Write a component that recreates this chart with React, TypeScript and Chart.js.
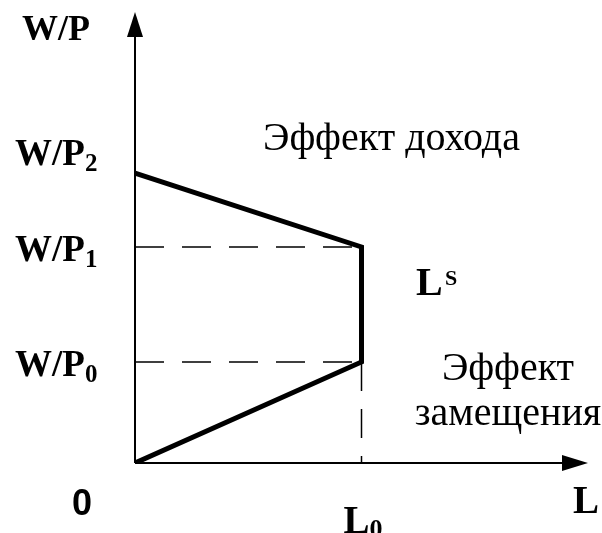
import React, { useEffect, useRef } from "react";
import { Chart, registerables } from "chart.js";

Chart.register(...registerables);

// Labour supply curve L^S with a backward-bending upper segment
const supplyL = [0, 5, 5, 0];
const supplyW = [6.43, 4.79, 2.24, 0];

// Reference levels of the real wage and of labour
const wageLevels = [2.24, 4.79, 6.43]; // W/P0, W/P1, W/P2
const wageSubs = ["0", "1", "2"];
const laborL0 = 5;

const SERIF = "'Liberation Serif', 'Times New Roman', serif";
const SANS = "'Liberation Sans', Arial, sans-serif";

const axesPlugin = {
  id: "axesArrows",
  beforeDatasetsDraw(chart: any) {
    const { ctx, scales } = chart;
    const x0 = scales.x.getPixelForValue(0);
    const y0 = scales.y.getPixelForValue(0);
    const top = chart.chartArea.top;
    const right = chart.chartArea.right;
    ctx.save();
    ctx.strokeStyle = "#000";
    ctx.fillStyle = "#000";
    ctx.lineWidth = 2;
    ctx.beginPath();
    ctx.moveTo(x0, y0);
    ctx.lineTo(x0, top + 20);
    ctx.moveTo(x0, y0);
    ctx.lineTo(right - 20, y0);
    ctx.stroke();
    // arrow heads
    ctx.beginPath();
    ctx.moveTo(x0, top);
    ctx.lineTo(x0 - 8, top + 25);
    ctx.lineTo(x0 + 8, top + 25);
    ctx.closePath();
    ctx.fill();
    ctx.beginPath();
    ctx.moveTo(right, y0);
    ctx.lineTo(right - 26, y0 - 8);
    ctx.lineTo(right - 26, y0 + 8);
    ctx.closePath();
    ctx.fill();
    ctx.restore();
  },
  afterDraw(chart: any) {
    const { ctx, scales } = chart;
    ctx.save();
    ctx.fillStyle = "#000";
    ctx.textBaseline = "alphabetic";
    ctx.textAlign = "left";

    const sub = (base: string, s: string, x: number, y: number, font: number, subFont: number, drop: number) => {
      ctx.font = `bold ${font}px ${SERIF}`;
      ctx.fillText(base, x, y);
      const w = ctx.measureText(base).width;
      ctx.font = `bold ${subFont}px ${SERIF}`;
      ctx.fillText(s, x + w, y + drop);
    };

    // axis titles
    ctx.font = `bold 36px ${SERIF}`;
    ctx.fillText("W/P", 22, 40);
    ctx.font = `bold 39px ${SERIF}`;
    ctx.fillText("L", 573, 513);

    // wage levels on the vertical axis
    wageLevels.forEach((v, i) => {
      const py = scales.y.getPixelForValue(v);
      const dy = i === 2 ? -8 : 14;
      sub("W/P", wageSubs[i], 15, py + dy, 37, 25, 6);
    });

    // labour level on the horizontal axis
    const lx = scales.x.getPixelForValue(laborL0);
    sub("L", "0", lx - 18, 533, 39, 26, 4);

    // origin
    ctx.font = `bold 36px ${SANS}`;
    ctx.fillText("0", 72, 515);

    // curve name L^S
    ctx.font = `bold 40px ${SERIF}`;
    ctx.fillText("L", 416, 295);
    ctx.font = `bold 22px ${SERIF}`;
    ctx.fillText("S", 445, 285);

    // effect captions
    ctx.font = `40px ${SERIF}`;
    ctx.fillText("Эффект дохода", 263, 150);
    ctx.textAlign = "center";
    ctx.fillText("Эффект", 508, 380);
    ctx.fillText("замещения", 508, 425);
    ctx.restore();
  },
};

export default function App() {
  const ref = useRef<HTMLCanvasElement | null>(null);

  useEffect(() => {
    if (!ref.current) return;
    const dash = [29, 18];
    const guide = (pts: { x: number; y: number }[]) => ({
      data: pts,
      showLine: true,
      borderColor: "#000",
      borderWidth: 1.5,
      borderDash: dash,
      pointRadius: 0,
    });
    const chart = new Chart(ref.current, {
      type: "scatter",
      data: {
        datasets: [
          guide([
            { x: 0, y: wageLevels[1] },
            { x: laborL0, y: wageLevels[1] },
          ]),
          guide([
            { x: 0, y: wageLevels[0] },
            { x: laborL0, y: wageLevels[0] },
          ]),
          guide([
            { x: laborL0, y: wageLevels[0] },
            { x: laborL0, y: 0 },
          ]),
          {
            data: supplyL.map((l, i) => ({ x: l, y: supplyW[i] })),
            showLine: true,
            borderColor: "#000",
            borderWidth: 5,
            borderCapStyle: "round",
            borderJoinStyle: "miter",
            pointRadius: 0,
          },
        ],
      },
      options: {
        animation: false,
        responsive: false,
        devicePixelRatio: 1,
        layout: { padding: { left: 135, right: 14, top: 12, bottom: 70 } },
        scales: {
          x: { type: "linear", min: 0, max: 10, display: false },
          y: { type: "linear", min: 0, max: 10, display: false },
        },
        plugins: {
          legend: { display: false },
          tooltip: { enabled: false },
        },
      },
      plugins: [axesPlugin],
    });
    return () => chart.destroy();
  }, []);

  return (
    <div style={{ position: "fixed", left: 0, top: 0, width: 602, height: 533, background: "#fff" }}>
      <canvas ref={ref} width={602} height={533} />
    </div>
  );
}
